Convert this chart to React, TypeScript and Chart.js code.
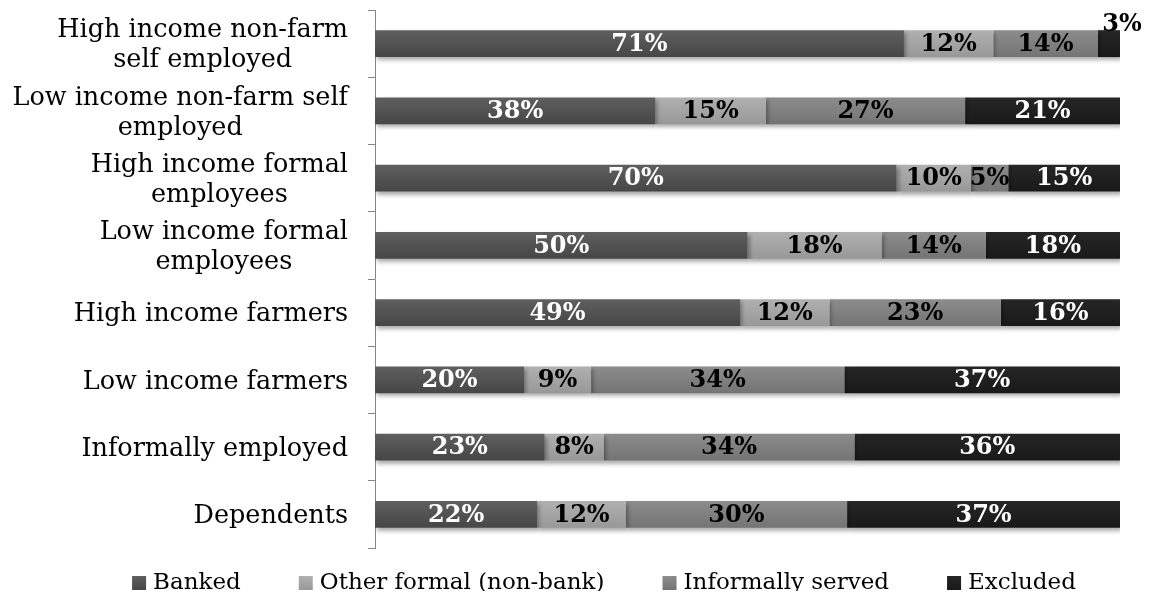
import React, { useEffect, useRef } from "react";
import { Chart, registerables } from "chart.js";

Chart.register(...registerables);

const categories: (string | string[])[] = [
  ["High income non-farm", "self employed"],
  ["Low income non-farm self", "employed"],
  ["High income formal", "employees"],
  ["Low income formal", "employees"],
  "High income farmers",
  "Low income farmers",
  "Informally employed",
  "Dependents",
];

const seriesNames = ["Banked", "Other formal (non-bank)", "Informally served", "Excluded"];
const banked = [71, 38, 70, 50, 49, 20, 23, 22];
const otherFormal = [12, 15, 10, 18, 12, 9, 8, 12];
const informal = [14, 27, 5, 14, 23, 34, 34, 30];
const excluded = [3, 21, 15, 18, 16, 37, 36, 37];

const seriesColors = ["#565656", "#a6a6a6", "#838383", "#1f1f1f"];
const gradTop = ["#5f5f5f", "#b0b0b0", "#8c8c8c", "#262626"];
const gradBottom = ["#464646", "#989898", "#747474", "#191919"];
const labelColors = ["#ffffff", "#000000", "#000000", "#ffffff"];

const rawSeries = [banked, otherFormal, informal, excluded];
const totals = categories.map((_, i) => rawSeries.reduce((s, arr) => s + arr[i], 0));

const BAR_PCT = 0.4;
const TICK_LEN = 7;
const TICK_PAD = 20;
const TICK_FONT = "25.5px 'DejaVu Serif'";
const TICK_LINE_H = 30;

const shadowPlugin = {
  id: "barShadow",
  beforeDatasetsDraw(chart: any) {
    const ctx = chart.ctx;
    ctx.save();
    ctx.shadowColor = "rgba(0,0,0,0.32)";
    ctx.shadowBlur = 4;
    ctx.shadowOffsetX = 2;
    ctx.shadowOffsetY = 3;
  },
  afterDatasetsDraw(chart: any) {
    chart.ctx.restore();
  },
};

// category labels: single lines right-aligned at the axis, wrapped labels centred within their block
const categoryLabelPlugin = {
  id: "categoryLabels",
  afterDraw(chart: any) {
    const ctx = chart.ctx;
    const ys = chart.scales.y;
    const right = ys.right - TICK_LEN - TICK_PAD;
    ctx.save();
    ctx.font = TICK_FONT;
    ctx.fillStyle = "#000000";
    ctx.textBaseline = "middle";
    categories.forEach((lab, i) => {
      const lines = Array.isArray(lab) ? lab : [lab];
      const yc = ys.getPixelForTick(i);
      const widest = Math.max(...lines.map((l) => ctx.measureText(l).width));
      const cx = right - widest / 2;
      lines.forEach((line, li) => {
        const y = yc + (li - (lines.length - 1) / 2) * TICK_LINE_H + 2;
        ctx.textAlign = "center";
        ctx.fillText(line, cx, y);
      });
    });
    ctx.restore();
  },
};

const labelPlugin = {
  id: "segLabels",
  afterDraw(chart: any) {
    const ctx = chart.ctx;
    ctx.save();
    ctx.font = "bold 24px 'DejaVu Serif'";
    ctx.textAlign = "center";
    chart.data.datasets.forEach((ds: any, di: number) => {
      const meta = chart.getDatasetMeta(di);
      meta.data.forEach((el: any, i: number) => {
        const text = rawSeries[di][i] + "%";
        const w = Math.abs(el.x - el.base);
        const tw = ctx.measureText(text).width;
        if (w < tw - 6) {
          ctx.fillStyle = "#000000";
          ctx.textBaseline = "alphabetic";
          ctx.fillText(text, el.x + 2, el.y - el.height / 2 + 1);
        } else {
          ctx.fillStyle = labelColors[di];
          ctx.textBaseline = "middle";
          ctx.fillText(text, (el.x + el.base) / 2, el.y + 1);
        }
      });
    });
    ctx.restore();
  },
};

const legendPlugin = {
  id: "customLegend",
  afterDraw(chart: any) {
    const ctx = chart.ctx;
    const box = 14;
    const gap = 7;
    const spacing = 58;
    const centerX = 596;
    const centerY = 575;
    ctx.save();
    ctx.font = "23px 'DejaVu Serif'";
    const widths = chart.data.datasets.map((d: any) => box + gap + ctx.measureText(d.label).width);
    const total = widths.reduce((a: number, b: number) => a + b, 0) + spacing * (widths.length - 1);
    let x = centerX - total / 2;
    chart.data.datasets.forEach((d: any, di: number) => {
      const g = ctx.createLinearGradient(0, centerY - box / 2, 0, centerY + box / 2);
      g.addColorStop(0, gradTop[di]);
      g.addColorStop(1, gradBottom[di]);
      ctx.fillStyle = g;
      ctx.fillRect(x, centerY - box / 2, box, box);
      ctx.fillStyle = "#000000";
      ctx.textAlign = "left";
      ctx.textBaseline = "middle";
      ctx.fillText(d.label, x + box + gap, centerY);
      x += widths[di] + spacing;
    });
    ctx.restore();
  },
};

export default function App() {
  const ref = useRef<HTMLCanvasElement>(null);
  useEffect(() => {
    if (!ref.current) return;
    const chart = new Chart(ref.current, {
      type: "bar",
      data: {
        labels: categories,
        datasets: rawSeries.map((arr, di) => ({
          label: seriesNames[di],
          data: arr.map((v, i) => (v / totals[i]) * 100),
          backgroundColor: (c: any) => {
            const ch = c.chart;
            const ys = ch.scales && ch.scales.y;
            if (!ys || c.type !== "data" || !ch.chartArea) return seriesColors[di];
            const y = ys.getPixelForValue(c.dataIndex);
            const h = (ys.height / categories.length) * BAR_PCT;
            const g = ch.ctx.createLinearGradient(0, y - h / 2, 0, y + h / 2);
            g.addColorStop(0, gradTop[di]);
            g.addColorStop(1, gradBottom[di]);
            return g;
          },
          borderWidth: 0,
          categoryPercentage: 1,
          barPercentage: BAR_PCT,
        })),
      },
      options: {
        indexAxis: "y",
        animation: false,
        responsive: true,
        maintainAspectRatio: false,
        layout: { padding: { left: 60, right: 21, top: 2, bottom: 51 } },
        scales: {
          x: { stacked: true, min: 0, max: 100, display: false },
          y: {
            stacked: true,
            afterFit(scale: any) {
              scale.width = 307;
              scale.paddingTop = 0;
              scale.paddingBottom = 0;
            },
            border: { display: true, color: "#868686", width: 1 },
            grid: {
              offset: true,
              drawOnChartArea: false,
              drawTicks: true,
              tickLength: TICK_LEN,
              color: "#868686",
            },
            ticks: {
              display: false,
              autoSkip: false,
            },
          },
        },
        plugins: {
          legend: { display: false },
          tooltip: { enabled: false },
        },
      },
      plugins: [shadowPlugin, labelPlugin, categoryLabelPlugin, legendPlugin],
    });
    return () => chart.destroy();
  }, []);
  return (
    <div style={{ width: "1133px", height: "591px", marginBottom: "-8px", position: "relative" }}>
      <canvas ref={ref} />
    </div>
  );
}
